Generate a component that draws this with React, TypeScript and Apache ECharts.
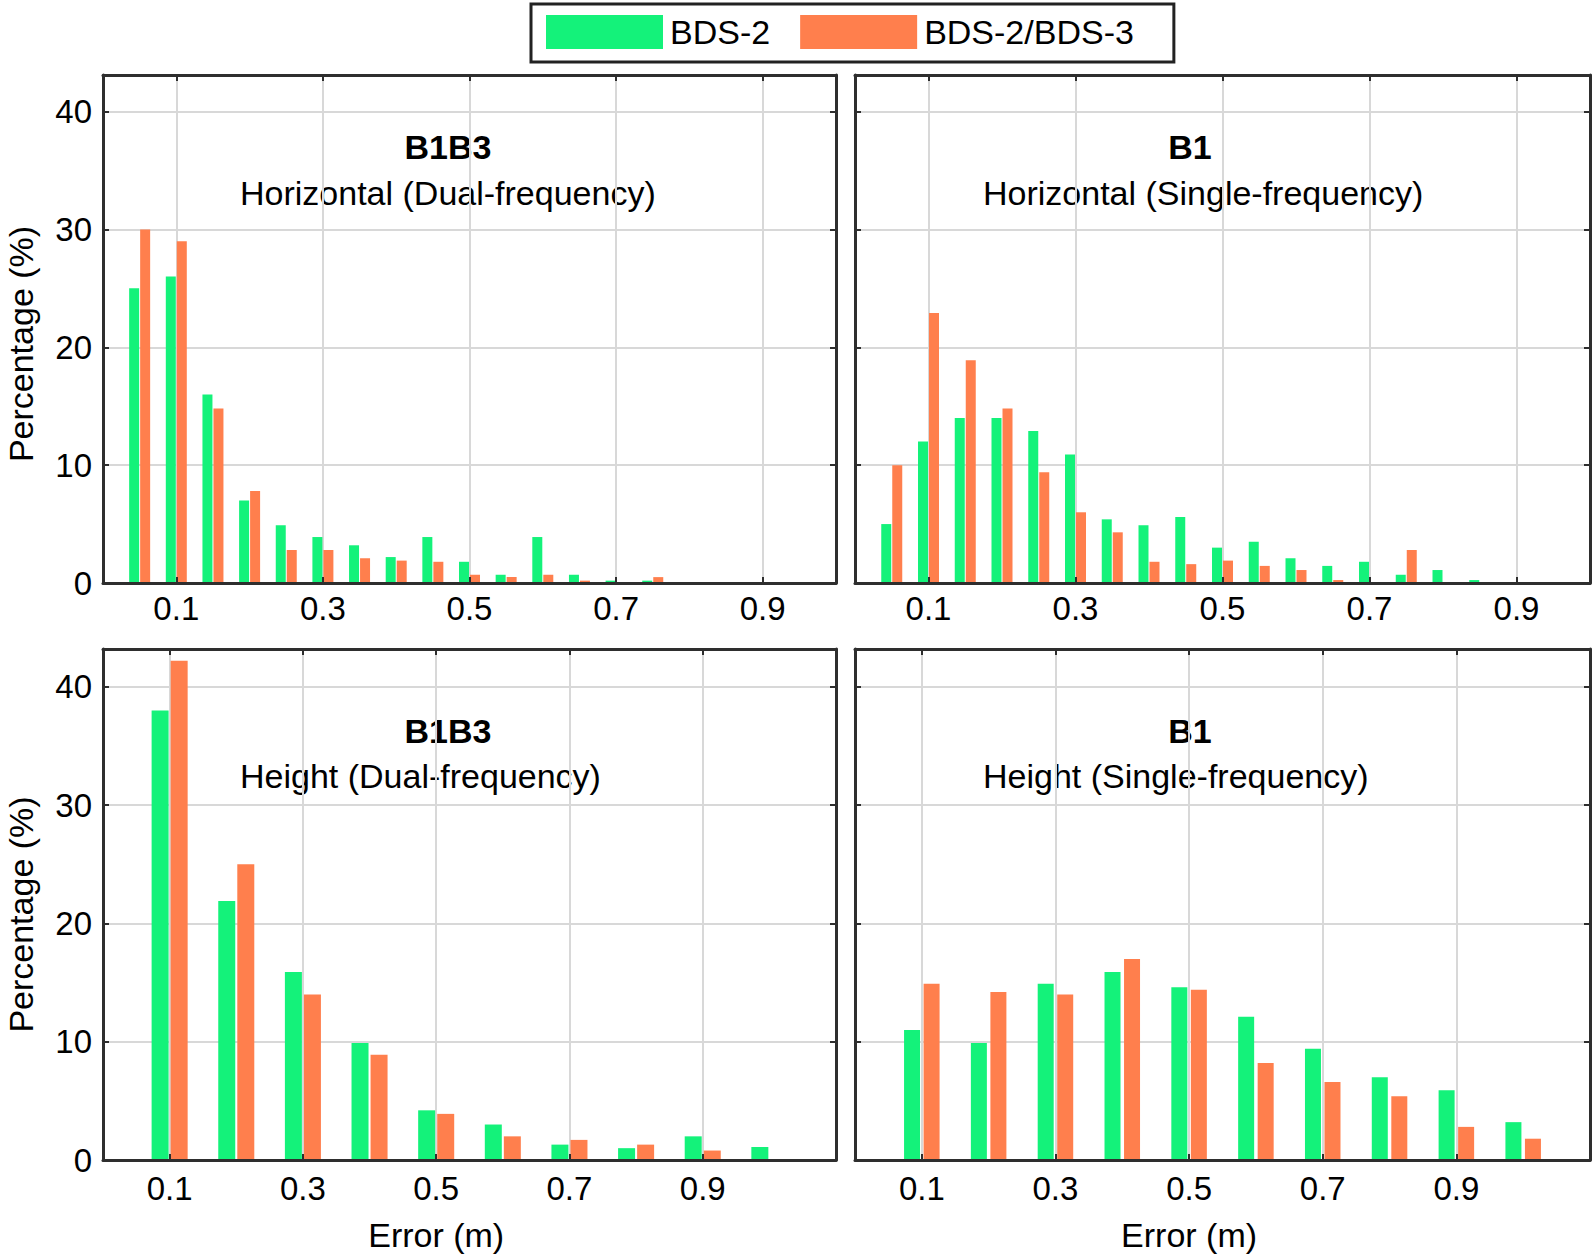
import React, { useEffect, useRef } from 'react';
import * as echarts from 'echarts';

// ---------- data ----------
const seriesNames = ['BDS-2', 'BDS-2/BDS-3'];
const topBins = [0.05, 0.1, 0.15, 0.2, 0.25, 0.3, 0.35, 0.4, 0.45, 0.5, 0.55, 0.6, 0.65, 0.7, 0.75, 0.8, 0.85];
const bottomBins = [0.1, 0.2, 0.3, 0.4, 0.5, 0.6, 0.7, 0.8, 0.9, 1.0];
const xTickValues = [0.1, 0.3, 0.5, 0.7, 0.9];
const yTickInterval = 10;

const horDualBds2 = [25, 26, 16, 7, 4.9, 3.9, 3.2, 2.2, 3.9, 1.8, 0.7, 3.9, 0.7, 0.2, 0.2, 0, 0];
const horDualBds23 = [30, 29, 14.8, 7.8, 2.8, 2.8, 2.1, 1.9, 1.8, 0.7, 0.5, 0.7, 0.2, 0.05, 0.5, 0, 0];
const horSingleBds2 = [5, 12, 14, 14, 12.9, 10.9, 5.4, 4.9, 5.6, 3.0, 3.5, 2.1, 1.45, 1.8, 0.7, 1.1, 0.25];
const horSingleBds23 = [10, 22.9, 18.9, 14.8, 9.4, 6.0, 4.3, 1.8, 1.6, 1.9, 1.45, 1.1, 0.25, 0, 2.8, 0, 0];
const hgtDualBds2 = [38, 21.9, 15.9, 9.9, 4.2, 3.0, 1.3, 1.0, 2.0, 1.1];
const hgtDualBds23 = [42.2, 25, 14, 8.9, 3.9, 2.0, 1.7, 1.3, 0.8, 0];
const hgtSingleBds2 = [11, 9.9, 14.9, 15.9, 14.6, 12.1, 9.4, 7.0, 5.9, 3.2];
const hgtSingleBds23 = [14.9, 14.2, 14.0, 17.0, 14.4, 8.2, 6.6, 5.4, 2.8, 1.8];

const titles = ['B1B3', 'B1', 'B1B3', 'B1'];
const subtitles = [
  'Horizontal (Dual-frequency)',
  'Horizontal (Single-frequency)',
  'Height (Dual-frequency)',
  'Height (Single-frequency)',
];
const yName = 'Percentage (%)';
const xName = 'Error (m)';

// ---------- layout / style ----------
const FONT = '"Liberation Sans", Arial, Helvetica, sans-serif';
const COLORS = ['#14F27A', '#FF7F4D'];
const DARK = '#2e2e2e';
const GRIDC = '#d8d8d8';

const panels = [
  { bins: topBins, a: horDualBds2, b: horDualBds23, left: 103, top: 75, width: 733, height: 508, xMax: 1.0, yMax: 43.1, yLabels: true, hasXName: false, barWidth: 10, barGap: '10%', labelMargin: 9, titleX: 448, subX: 240, titleY: 147, subY: 193 },
  { bins: topBins, a: horSingleBds2, b: horSingleBds23, left: 855, top: 75, width: 735, height: 508, xMax: 1.0, yMax: 43.1, yLabels: false, hasXName: false, barWidth: 10, barGap: '10%', labelMargin: 9, titleX: 1190, subX: 983, titleY: 147, subY: 193 },
  { bins: bottomBins, a: hgtDualBds2, b: hgtDualBds23, left: 103, top: 649, width: 733, height: 511, xMax: 1.1, yMax: 43.2, yLabels: true, hasXName: true, barWidth: 17, barGap: '12%', labelMargin: 12, titleX: 448, subX: 240, titleY: 731, subY: 776 },
  { bins: bottomBins, a: hgtSingleBds2, b: hgtSingleBds23, left: 855, top: 649, width: 735, height: 511, xMax: 1.1, yMax: 43.2, yLabels: false, hasXName: true, barWidth: 16, barGap: '22%', labelMargin: 12, titleX: 1190, subX: 983, titleY: 731, subY: 776 },
];

function textEl(text: string, x: number, y: number, font: string, align: string, rotation = 0) {
  return {
    type: 'text',
    x,
    y,
    rotation,
    silent: true,
    style: {
      text,
      font,
      fill: '#000',
      align,
      verticalAlign: 'middle',
      textAlign: align,
      textVerticalAlign: 'middle',
    },
  };
}

function buildOption() {
  const grid: any[] = [];
  const xAxis: any[] = [];
  const yAxis: any[] = [];
  const series: any[] = [];
  const graphic: any[] = [];

  panels.forEach((p, i) => {
    grid.push({ left: p.left, top: p.top, width: p.width, height: p.height, containLabel: false, show: false });

    // main bottom x axis (above bars)
    xAxis.push({
      type: 'value', gridIndex: i, min: 0, max: p.xMax, position: 'bottom', z: 10,
      axisLine: { show: true, onZero: false, lineStyle: { color: DARK, width: 3 } },
      axisTick: { show: true, inside: true, length: 6, customValues: xTickValues, lineStyle: { color: DARK, width: 2 } },
      axisLabel: {
        show: true, customValues: xTickValues, margin: p.labelMargin, color: '#000', fontSize: 33, fontFamily: FONT,
        formatter: (v: number) => v.toFixed(1),
      },
      splitLine: { show: false },
    });
    // top x axis (grid lines, behind bars)
    xAxis.push({
      type: 'value', gridIndex: i, min: 0, max: p.xMax, position: 'top', z: 0,
      axisLine: { show: true, onZero: false, lineStyle: { color: DARK, width: 3 } },
      axisTick: { show: true, inside: true, length: 6, customValues: xTickValues, lineStyle: { color: DARK, width: 2 } },
      axisLabel: { show: false, customValues: xTickValues },
      splitLine: { show: true, lineStyle: { color: GRIDC, width: 2 } },
    });
    // main left y axis
    yAxis.push({
      type: 'value', gridIndex: i, min: 0, max: p.yMax, interval: yTickInterval, position: 'left', z: 10,
      axisLine: { show: true, onZero: false, lineStyle: { color: DARK, width: 3 } },
      axisTick: { show: true, inside: true, length: 6, lineStyle: { color: DARK, width: 2 } },
      axisLabel: { show: p.yLabels, showMaxLabel: false, margin: 11, color: '#000', fontSize: 33, fontFamily: FONT },
      splitLine: { show: false },
    });
    // right y axis (grid lines)
    yAxis.push({
      type: 'value', gridIndex: i, min: 0, max: p.yMax, interval: yTickInterval, position: 'right', z: 0,
      axisLine: { show: true, onZero: false, lineStyle: { color: DARK, width: 3 } },
      axisTick: { show: true, inside: true, length: 6, lineStyle: { color: DARK, width: 2 } },
      axisLabel: { show: false },
      splitLine: { show: true, lineStyle: { color: GRIDC, width: 2 } },
    });

    [p.a, p.b].forEach((vals, k) => {
      series.push({
        type: 'bar',
        name: seriesNames[k],
        xAxisIndex: i * 2,
        yAxisIndex: i * 2,
        barWidth: p.barWidth,
        barGap: p.barGap,
        itemStyle: { color: COLORS[k] },
        data: p.bins.map((x, j) => [x, vals[j]]),
        z: 2,
      });
    });

    graphic.push(textEl(titles[i], p.titleX, p.titleY, `bold 34px ${FONT}`, 'center'));
    graphic.push(textEl(subtitles[i], p.subX, p.subY, `34px ${FONT}`, 'left'));
    if (p.yLabels) {
      graphic.push(textEl(yName, 21, p.top + p.height / 2 + (i === 0 ? 15 : 10), `34px ${FONT}`, 'center', Math.PI / 2));
    }
    if (p.hasXName) {
      // centred under x = 0.5
      const cx = p.left + (0.5 / p.xMax) * p.width;
      graphic.push(textEl(xName, cx, 1235, `34px ${FONT}`, 'center'));
    }
  });

  return {
    animation: false,
    backgroundColor: '#fff',
    legend: {
      data: seriesNames,
      left: 531,
      top: 4,
      orient: 'horizontal',
      icon: 'rect',
      itemWidth: 117,
      itemHeight: 34,
      itemGap: 30,
      padding: [11, 40, 13, 15],
      borderColor: '#222',
      borderWidth: 3,
      backgroundColor: '#fff',
      selectedMode: false,
      textStyle: { fontSize: 34, fontFamily: FONT, color: '#000', padding: [0, 0, 0, 2] },
    },
    grid,
    xAxis,
    yAxis,
    series,
    graphic,
  };
}

export default function App() {
  const ref = useRef<HTMLDivElement>(null);
  useEffect(() => {
    if (!ref.current) return;
    const chart = echarts.init(ref.current, undefined, { renderer: 'svg' });
    chart.setOption(buildOption() as any);
    return () => chart.dispose();
  }, []);
  return (
    <div
      ref={ref}
      style={{ position: 'absolute', left: 0, top: 0, width: 1594, height: 1257, background: '#fff' }}
    />
  );
}
